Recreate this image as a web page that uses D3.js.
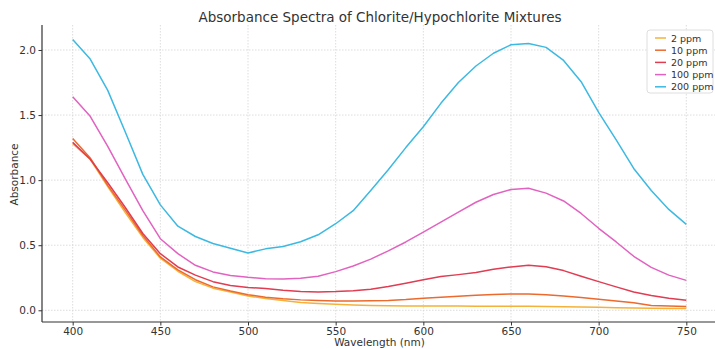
<!DOCTYPE html>
<html>
<head>
<meta charset="utf-8">
<script src="https://cdn.jsdelivr.net/npm/d3@7"></script>
<style>
  body { margin: 0; background: #fff; }
  svg { display: block; font-family: "DejaVu Sans", sans-serif; }
</style>
</head>
<body>
<script>
// wavelengths in nm
var wavelengths = d3.range(400, 751, 10);

// absorbance for each concentration
var ppm2 = [1.28, 1.16, 0.95, 0.75, 0.56, 0.40, 0.30, 0.22, 0.17, 0.14, 0.11, 0.09, 0.075, 0.06, 0.052, 0.046, 0.041, 0.037,
            0.034, 0.033, 0.033, 0.032, 0.032, 0.031, 0.031, 0.031, 0.031, 0.030, 0.028, 0.026, 0.024, 0.020, 0.017, 0.015, 0.014, 0.013];
var ppm10 = [1.32, 1.17, 0.96, 0.77, 0.575, 0.41, 0.31, 0.235, 0.18, 0.148, 0.12, 0.10, 0.088, 0.08, 0.075, 0.072, 0.072, 0.073,
             0.076, 0.082, 0.092, 0.10, 0.108, 0.116, 0.122, 0.125, 0.125, 0.12, 0.11, 0.098, 0.085, 0.072, 0.058, 0.036, 0.033, 0.029];
var ppm20 = [1.29, 1.16, 0.98, 0.79, 0.59, 0.435, 0.333, 0.27, 0.22, 0.19, 0.176, 0.167, 0.154, 0.145, 0.141, 0.144, 0.15, 0.162,
             0.182, 0.207, 0.235, 0.26, 0.274, 0.29, 0.315, 0.333, 0.346, 0.335, 0.305, 0.262, 0.22, 0.18, 0.14, 0.113, 0.092, 0.077];
var ppm100 = [1.64, 1.49, 1.26, 1.01, 0.765, 0.55, 0.435, 0.346, 0.295, 0.268, 0.253, 0.243, 0.24, 0.246, 0.262, 0.297, 0.34, 0.393,
              0.457, 0.525, 0.60, 0.677, 0.754, 0.83, 0.89, 0.928, 0.938, 0.90, 0.84, 0.744, 0.63, 0.525, 0.415, 0.33, 0.27, 0.23];
var ppm200 = [2.08, 1.93, 1.69, 1.37, 1.044, 0.81, 0.646, 0.567, 0.513, 0.477, 0.44, 0.472, 0.49, 0.527, 0.58, 0.665, 0.765, 0.92,
              1.08, 1.25, 1.41, 1.59, 1.75, 1.877, 1.975, 2.04, 2.05, 2.02, 1.92, 1.756, 1.52, 1.31, 1.09, 0.92, 0.775, 0.66];

var seriesNames = ['2 ppm', '10 ppm', '20 ppm', '100 ppm', '200 ppm'];
var seriesValues = [ppm2, ppm10, ppm20, ppm100, ppm200];
var seriesColors = ['#f4b23a', '#ec6a2e', '#e03c52', '#e262c0', '#3cb9e2'];

var xTicks = [400, 450, 500, 550, 600, 650, 700, 750];
var yTicks = [0.0, 0.5, 1.0, 1.5, 2.0];

var width = 715,
    height = 349;

var margin = { top: 25, left: 42, bottom: 322, right: 717 };

var svg = d3.select('body')
  .append('svg')
  .attr('width', width)
  .attr('height', height);

// x scale padded 5% like the source
var x = d3.scaleLinear()
  .domain([382.5, 767.5])
  .range([margin.left, margin.right]);

var y = d3.scaleLinear()
  .domain([-0.09, 2.192])
  .range([margin.bottom, margin.top]);

// grid lines
svg.append('g')
  .selectAll('line.vgrid')
  .data(xTicks)
  .enter()
  .append('line')
  .attr('x1', function(d) { return x(d); })
  .attr('x2', function(d) { return x(d); })
  .attr('y1', margin.top)
  .attr('y2', margin.bottom)
  .attr('stroke', '#d4d4d4')
  .attr('stroke-width', 0.8)
  .attr('stroke-dasharray', '1.5,1.5');

svg.append('g')
  .selectAll('line.hgrid')
  .data(yTicks)
  .enter()
  .append('line')
  .attr('x1', margin.left)
  .attr('x2', margin.right)
  .attr('y1', function(d) { return y(d); })
  .attr('y2', function(d) { return y(d); })
  .attr('stroke', '#d4d4d4')
  .attr('stroke-width', 0.8)
  .attr('stroke-dasharray', '1.5,1.5');

// the lines
var line = d3.line()
  .x(function(d, i) { return x(wavelengths[i]); })
  .y(function(d) { return y(d); });

svg.append('g')
  .selectAll('path')
  .data(seriesValues)
  .enter()
  .append('path')
  .attr('d', line)
  .attr('fill', 'none')
  .attr('stroke', function(d, i) { return seriesColors[i]; })
  .attr('stroke-width', 1.5)
  .attr('stroke-linejoin', 'round');

// axes
var xAxis = d3.axisBottom(x)
  .tickValues(xTicks)
  .tickSize(3.5)
  .tickPadding(2)
  .tickFormat(d3.format('d'));

var yAxis = d3.axisLeft(y)
  .tickValues(yTicks)
  .tickSize(3.5)
  .tickPadding(2.5)
  .tickFormat(d3.format('.1f'));

var gx = svg.append('g')
  .attr('transform', 'translate(0,' + margin.bottom + ')')
  .call(xAxis);

var gy = svg.append('g')
  .attr('transform', 'translate(' + margin.left + ',0)')
  .call(yAxis);

[gx, gy].forEach(function(g) {
  g.select('.domain').attr('stroke', '#333').attr('stroke-width', 1.2);
  g.selectAll('.tick line').attr('stroke', '#333');
  g.selectAll('.tick text')
    .attr('fill', '#333')
    .style('font-size', '10.5px')
    .style('font-family', '"DejaVu Sans", sans-serif');
});
// spines only, no end caps
gy.select('.domain').attr('d', 'M0,' + margin.top + 'V' + margin.bottom);
gx.select('.domain').attr('d', 'M' + margin.left + ',0H' + margin.right);

// labels
svg.append('text')
  .attr('x', (margin.left + margin.right) / 2)
  .attr('y', 346)
  .attr('text-anchor', 'middle')
  .attr('fill', '#333')
  .style('font-size', '10.5px')
  .text('Wavelength (nm)');

svg.append('text')
  .attr('transform', 'translate(17.5,' + ((margin.top + margin.bottom) / 2 + 1) + ') rotate(-90)')
  .attr('text-anchor', 'middle')
  .attr('fill', '#333')
  .style('font-size', '10.5px')
  .text('Absorbance');

svg.append('text')
  .attr('x', 380)
  .attr('y', 21.5)
  .attr('text-anchor', 'middle')
  .attr('fill', '#333')
  .style('font-size', '13.5px')
  .text('Absorbance Spectra of Chlorite/Hypochlorite Mixtures');

// legend
var legend = svg.append('g')
  .attr('class', 'legend')
  .attr('transform', 'translate(647,30)');

legend.append('rect')
  .attr('width', 66)
  .attr('height', 63)
  .attr('rx', 3)
  .attr('fill', 'white')
  .attr('fill-opacity', 0.85)
  .attr('stroke', '#d6d6d6')
  .attr('stroke-width', 0.8);

var items = legend.selectAll('g.item')
  .data(seriesNames)
  .enter()
  .append('g')
  .attr('transform', function(d, i) { return 'translate(0,' + (8 + i * 12.2) + ')'; });

items.append('line')
  .attr('x1', 8)
  .attr('x2', 19)
  .attr('stroke', function(d, i) { return seriesColors[i]; })
  .attr('stroke-width', 1.5);

items.append('text')
  .attr('x', 24)
  .attr('y', 3.5)
  .attr('fill', '#333')
  .style('font-size', '9.5px')
  .text(function(d) { return d; });
</script>
</body>
</html>
